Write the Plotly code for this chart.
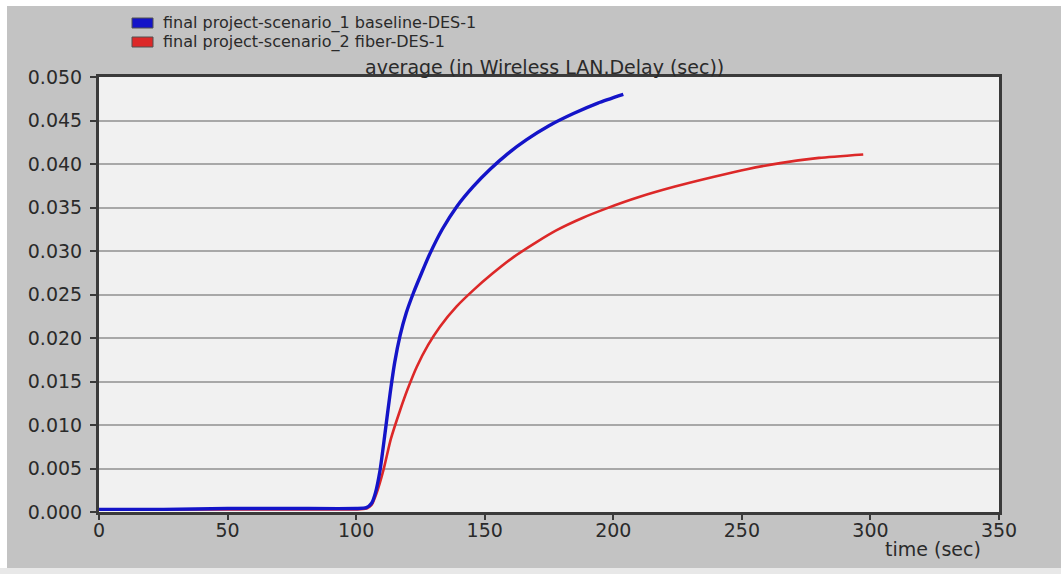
import plotly.graph_objects as go

# ---- data ----
t_baseline = [0, 25, 50, 75, 100, 104, 106, 107.5, 109.3, 111.2, 113.2, 115, 117.1, 119.5, 122.3, 125.5, 128.7,
              133.5, 139.1, 145.5, 152.1, 159, 166.3, 175, 184.5, 194, 203.9]
v_baseline = [0.0003, 0.0003, 0.0004, 0.0004, 0.0004, 0.0005, 0.0010, 0.0022, 0.0048, 0.0090, 0.0136, 0.0172, 0.0203,
              0.0229, 0.0252, 0.0275, 0.0297, 0.0325, 0.0351, 0.0374, 0.0394, 0.0412, 0.0428, 0.0444, 0.0458, 0.0470, 0.0480]

t_fiber = [0, 25, 50, 75, 100, 104, 106, 108, 110.6, 113.5, 117.1, 120, 123.6, 128, 132.6, 139, 145.6, 153, 161.2,
           170, 178, 188, 197.4, 210, 224, 238.8, 252, 264.9, 280, 297.2]
v_fiber = [0.0003, 0.0003, 0.0003, 0.0003, 0.0003, 0.0004, 0.0008, 0.0022, 0.0048, 0.0084, 0.0117, 0.0141, 0.0167,
           0.0192, 0.0213, 0.0236, 0.0255, 0.0274, 0.0293, 0.0310, 0.0324, 0.0338, 0.0349, 0.0362, 0.0374, 0.0385,
           0.0394, 0.0401, 0.0407, 0.0411]

series_names = ["final project-scenario_1 baseline-DES-1", "final project-scenario_2 fiber-DES-1"]
series_colors = ["#1414c8", "#dc2828"]
x_ticks = [0, 50, 100, 150, 200, 250, 300, 350]
y_ticks = [0.000, 0.005, 0.010, 0.015, 0.020, 0.025, 0.030, 0.035, 0.040, 0.045, 0.050]

W, H = 1061, 574
L, R, T, B = 99, 62, 77, 62
pw, ph = W - L - R, H - T - B


def px_x(p):
    return (p - L) / pw


def px_y(p):
    return (H - B - p) / ph


fig = go.Figure()
fig.add_trace(go.Scatter(x=t_fiber, y=v_fiber, mode="lines", name=series_names[1],
                         line=dict(color=series_colors[1], width=2.6, shape="spline", smoothing=0.6),
                         showlegend=False, hoverinfo="skip"))
fig.add_trace(go.Scatter(x=t_baseline, y=v_baseline, mode="lines", name=series_names[0],
                         line=dict(color=series_colors[0], width=3.4, shape="spline", smoothing=0.6),
                         showlegend=False, hoverinfo="skip"))

font_family = "DejaVu Sans"
txt_col = "#2a2a2a"

shapes = [
    dict(type="rect", xref="paper", yref="paper", layer="below", x0=px_x(0), x1=px_x(W), y0=px_y(6), y1=px_y(0),
         fillcolor="white", line=dict(width=0)),
    dict(type="rect", xref="paper", yref="paper", layer="below", x0=px_x(0), x1=px_x(7), y0=px_y(H), y1=px_y(0),
         fillcolor="white", line=dict(width=0)),
    dict(type="rect", xref="paper", yref="paper", layer="below", x0=px_x(0), x1=px_x(W), y0=px_y(H), y1=px_y(568),
         fillcolor="#e8e8e8", line=dict(width=0)),
]
annotations = [
    dict(text="time (sec)", xref="paper", yref="paper", x=px_x(933), y=px_y(549),
         xanchor="center", yanchor="middle", showarrow=False,
         font=dict(family=font_family, size=19, color=txt_col)),
]
# legend (coloured boxes + labels)
for i, (name, col) in enumerate(zip(series_names, series_colors)):
    yc = 23 + 19 * i
    shapes.append(dict(type="rect", xref="paper", yref="paper", x0=px_x(132), x1=px_x(153),
                       y0=px_y(yc + 5), y1=px_y(yc - 5), fillcolor=col, line=dict(color="#505050", width=1)))
    annotations.append(dict(text=name, xref="paper", yref="paper", x=px_x(162), y=px_y(yc),
                            xanchor="left", yanchor="middle", showarrow=False, borderpad=0,
                            font=dict(family=font_family, size=16, color=txt_col)))

fig.update_layout(
    width=W, height=H,
    margin=dict(l=L, r=R, t=T, b=B),
    paper_bgcolor="#c3c3c3",
    plot_bgcolor="#f1f1f1",
    font=dict(family=font_family, size=14, color=txt_col),
    shapes=shapes,
    annotations=annotations,
    showlegend=False,
    title=dict(text="average (in Wireless LAN.Delay (sec))", x=px_x(561), xanchor="center",
               y=1 - 67 / H, yanchor="middle", font=dict(family=font_family, size=19, color=txt_col)),
    xaxis=dict(range=[0, 350], tickvals=x_ticks, ticktext=[str(v) for v in x_ticks],
               showgrid=False, zeroline=False, showline=True, linecolor="#3a3a3a", linewidth=3,
               mirror=True, ticks="outside", ticklen=5, tickcolor="#3a3a3a", tickwidth=2,
               ticklabelstandoff=-6,
               tickfont=dict(size=19, family=font_family, color=txt_col), automargin=False),
    yaxis=dict(range=[0, 0.05], tickvals=y_ticks, tickformat=".3f",
               showgrid=True, gridcolor="#a8a8a8", gridwidth=2, zeroline=False,
               showline=True, linecolor="#3a3a3a", linewidth=3, mirror=True,
               ticks="outside", ticklen=6, tickcolor="#3a3a3a", tickwidth=2,
               ticklabelstandoff=4,
               tickfont=dict(size=19, family=font_family, color=txt_col), automargin=False),
)

fig.write_html("out.html")
